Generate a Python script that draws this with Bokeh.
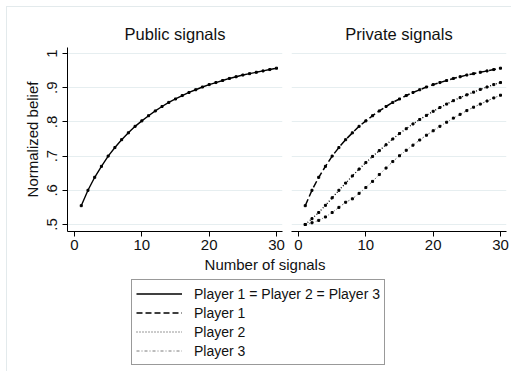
from bokeh.plotting import figure
from bokeh.models import Range1d, FixedTicker, Legend, LegendItem, Label
from bokeh.layouts import column, row
from bokeh.embed import file_html
from bokeh.resources import INLINE

n_signals = list(range(1, 31))
public_all = [0.555, 0.600, 0.638, 0.670, 0.700, 0.725, 0.748, 0.768, 0.787, 0.803,
              0.818, 0.832, 0.845, 0.857, 0.867, 0.877, 0.886, 0.894, 0.902, 0.909,
              0.915, 0.921, 0.927, 0.932, 0.937, 0.941, 0.945, 0.949, 0.953, 0.957]
private_p1 = [0.555, 0.600, 0.638, 0.670, 0.700, 0.725, 0.748, 0.768, 0.787, 0.803,
              0.818, 0.832, 0.845, 0.857, 0.867, 0.877, 0.886, 0.894, 0.902, 0.909,
              0.915, 0.921, 0.927, 0.932, 0.937, 0.941, 0.945, 0.949, 0.953, 0.957]
private_p2 = [0.500, 0.517, 0.535, 0.556, 0.578, 0.600, 0.621, 0.642, 0.662, 0.681,
              0.699, 0.716, 0.733, 0.750, 0.766, 0.780, 0.794, 0.807, 0.819, 0.831,
              0.842, 0.852, 0.862, 0.871, 0.879, 0.887, 0.895, 0.902, 0.909, 0.915]
private_p3 = [0.500, 0.505, 0.512, 0.522, 0.535, 0.550, 0.565, 0.575, 0.591, 0.608,
              0.626, 0.646, 0.665, 0.684, 0.701, 0.717, 0.732, 0.747, 0.761, 0.774,
              0.787, 0.799, 0.811, 0.822, 0.833, 0.843, 0.852, 0.861, 0.870, 0.878]

x_ticks = [0, 10, 20, 30]
y_ticks = [0.5, 0.6, 0.7, 0.8, 0.9, 1.0]
y_tick_labels = [".5", ".6", ".7", ".8", ".9", "1"]
panel_titles = ["Public signals", "Private signals"]
legend_labels = ["Player 1 = Player 2 = Player 3", "Player 1", "Player 2", "Player 3"]
x_label = "Number of signals"
y_label = "Normalized belief"

FONT = "Liberation Sans"
GRID = "#e6eef0"
FRAME = "#e3eaec"
TXT = "#111111"
P3_COLOR = "#7a7a7a"


def make_panel(title, show_y, width, mbl, mbr):
    p = figure(width=width, height=255, output_backend="svg", toolbar_location=None,
               x_range=Range1d(-1.04, 30.89), y_range=Range1d(0.4795, 1.0175),
               min_border_left=mbl, min_border_right=mbr, min_border_top=47,
               min_border_bottom=24, title=title)
    p.title.text_font = FONT
    p.title.text_font_size = "16.5px"
    p.title.text_font_style = "normal"
    p.title.text_color = TXT
    p.title.align = "center"
    p.title.standoff = 9
    p.outline_line_color = None
    p.background_fill_color = "white"
    p.border_fill_color = None
    p.xgrid.visible = False
    p.ygrid.ticker = FixedTicker(ticks=y_ticks)
    p.ygrid.grid_line_color = GRID
    p.ygrid.grid_line_width = 1
    xa = p.xaxis[0]
    xa.ticker = FixedTicker(ticks=x_ticks)
    xa.minor_tick_line_color = None
    xa.major_tick_out = 5
    xa.major_tick_in = 0
    xa.major_label_standoff = 3
    xa.major_label_text_font = FONT
    xa.major_label_text_font_size = "15px"
    xa.major_label_text_color = TXT
    xa.axis_line_color = "black"
    xa.major_tick_line_color = "black"
    ya = p.yaxis[0]
    ya.ticker = FixedTicker(ticks=y_ticks)
    if show_y:
        ya.major_label_overrides = {v: s for v, s in zip(y_ticks, y_tick_labels)}
        ya.major_label_orientation = "vertical"
        ya.minor_tick_line_color = None
        ya.major_tick_out = 5
        ya.major_tick_in = 0
        ya.major_label_standoff = 5
        ya.major_label_text_font = FONT
        ya.major_label_text_font_size = "15px"
        ya.major_label_text_color = TXT
        ya.axis_label = y_label
        ya.axis_label_text_font = FONT
        ya.axis_label_text_font_size = "15px"
        ya.axis_label_text_font_style = "normal"
        ya.axis_label_text_color = TXT
        ya.axis_label_standoff = 4
        ya.axis_line_color = "black"
        ya.major_tick_line_color = "black"
    else:
        ya.visible = False
    return p


p1 = make_panel(panel_titles[0], True, 286, 67, 4)
p1.line(n_signals, public_all, line_color="black", line_width=1.4)
p1.scatter(n_signals, public_all, marker="square", size=2, color="black")

p2 = make_panel(panel_titles[1], False, 225, 5, 5)
p2.line(n_signals, private_p1, line_color="black", line_width=1.5, line_dash="7 3")
p2.scatter(n_signals, private_p1, marker="square", size=2, color="black")
p2.line(n_signals, private_p2, line_color="black", line_width=1.3, line_dash="1 2")
p2.scatter(n_signals, private_p2, marker="square", size=2, color="black")
p2.line(n_signals, private_p3, line_color=P3_COLOR, line_width=1.0, line_dash="2 2 1 2")
p2.scatter(n_signals, private_p3, marker="square", size=2, color="black")

# bottom area: shared x label and legend
pb = figure(width=511, height=116, output_backend="svg", toolbar_location=None,
            x_range=Range1d(0, 511), y_range=Range1d(0, 116),
            min_border_left=0, min_border_right=0, min_border_top=0, min_border_bottom=0,
            x_axis_location=None, y_axis_location=None)
pb.outline_line_color = None
pb.xgrid.visible = False
pb.ygrid.visible = False
pb.background_fill_color = None
pb.border_fill_color = None
pb.add_layout(Label(x=264.5, y=107, text=x_label, text_align="center", text_baseline="middle",
                    text_font=FONT, text_font_size="15px", text_color=TXT))

r_all = pb.line(n_signals, public_all, line_color="black", line_width=1.4, visible=False)
r_p1 = pb.line(n_signals, private_p1, line_color="black", line_width=1.5, line_dash="6 3", visible=False)
r_p2 = pb.line(n_signals, private_p2, line_color="#333333", line_width=1.0, line_dash="1 2", visible=False)
r_p3 = pb.line(n_signals, private_p3, line_color=P3_COLOR, line_width=1.0, line_dash="3 2 1 2", visible=False)
legend = Legend(items=[LegendItem(label=legend_labels[0], renderers=[r_all]),
                       LegendItem(label=legend_labels[1], renderers=[r_p1]),
                       LegendItem(label=legend_labels[2], renderers=[r_p2]),
                       LegendItem(label=legend_labels[3], renderers=[r_p3])],
                location=(131, 6), orientation="vertical")
legend.label_text_font = FONT
legend.label_text_font_size = "14px"
legend.label_text_color = TXT
legend.glyph_width = 46
legend.glyph_height = 19
legend.label_height = 19
legend.label_standoff = 12
legend.spacing = 0
legend.padding = 4
legend.margin = 0
legend.border_line_color = "#333333"
legend.border_line_width = 1
legend.background_fill_color = "white"
legend.background_fill_alpha = 1
pb.add_layout(legend)

bg = (f"linear-gradient({FRAME},{FRAME}) 6px 6px / 1px 100% no-repeat, "
      f"linear-gradient({FRAME},{FRAME}) 6px 6px / 100% 1px no-repeat, white")
layout = column(row(p1, p2), pb, styles={"background": bg})
open("out.html", "w").write(file_html(layout, INLINE))
